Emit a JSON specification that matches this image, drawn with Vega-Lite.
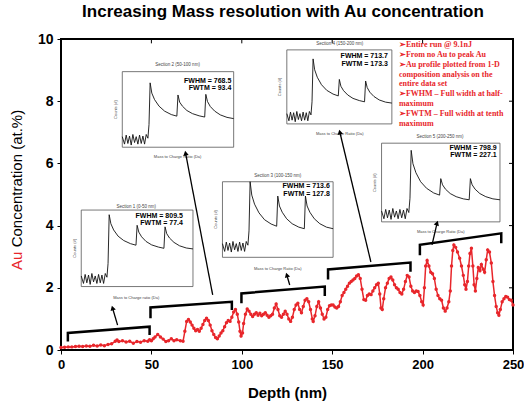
{
"$schema":"https://vega.github.io/schema/vega-lite/v6.json",
"width":452,"height":311,
"autosize":{"type":"none"},
"padding":{"left":61,"top":39,"right":11,"bottom":54},
"background":"white",
"config":{"view":{"stroke":"black","strokeWidth":2},"font":"Liberation Sans"},
"title":{"text":"Increasing Mass resolution with Au concentration","fontSize":17,"font":"Liberation Sans","fontWeight":"bold","color":"black","anchor":"middle","frame":"group","offset":11,"dx":-4},
"datasets":{
"series":[
{"x":0,"y":0.08},{"x":2,"y":0.09},{"x":4,"y":0.1},{"x":6,"y":0.1},{"x":8,"y":0.11},{"x":10,"y":0.12},{"x":12,"y":0.11},{"x":14,"y":0.13},{"x":16,"y":0.12},{"x":18,"y":0.15},{"x":20,"y":0.13},{"x":22,"y":0.16},{"x":24,"y":0.14},{"x":26,"y":0.18},{"x":28,"y":0.2},{"x":30,"y":0.28},{"x":31,"y":0.32},{"x":32,"y":0.27},{"x":34,"y":0.3},{"x":36,"y":0.26},{"x":38,"y":0.28},{"x":40,"y":0.22},{"x":42,"y":0.27},{"x":44,"y":0.25},{"x":46,"y":0.3},{"x":48,"y":0.28},{"x":49,"y":0.33},{"x":50,"y":0.3},{"x":51,"y":0.36},{"x":52,"y":0.42},{"x":53.5,"y":0.5},{"x":55,"y":0.42},{"x":56.5,"y":0.35},{"x":58,"y":0.27},{"x":59.5,"y":0.3},{"x":61,"y":0.36},{"x":62.5,"y":0.3},{"x":64,"y":0.33},{"x":66,"y":0.3},{"x":67.5,"y":0.28},{"x":68.5,"y":0.6},{"x":69.5,"y":0.92},{"x":70.5,"y":0.98},{"x":71.5,"y":0.9},{"x":72.5,"y":0.8},{"x":73.5,"y":0.7},{"x":74.5,"y":0.62},{"x":75.5,"y":0.66},{"x":76.5,"y":0.6},{"x":77.5,"y":0.7},{"x":78.5,"y":0.82},{"x":79.5,"y":0.95},{"x":80.5,"y":1.02},{"x":81.5,"y":0.95},{"x":82.5,"y":0.8},{"x":83.5,"y":0.62},{"x":84.5,"y":0.5},{"x":85.5,"y":0.4},{"x":86.5,"y":0.36},{"x":87.5,"y":0.45},{"x":88.5,"y":0.55},{"x":89.5,"y":0.62},{"x":90.5,"y":0.75},{"x":91.5,"y":0.88},{"x":92.5,"y":0.95},{"x":93.5,"y":0.92},{"x":94.5,"y":1.05},{"x":95.5,"y":1.22},{"x":96.5,"y":1.3},{"x":97.5,"y":1.15},{"x":98.3,"y":0.9},{"x":99,"y":0.6},{"x":99.6,"y":0.45},{"x":100.4,"y":0.55},{"x":101,"y":0.85},{"x":102,"y":1.15},{"x":103,"y":1.32},{"x":104,"y":1.25},{"x":105,"y":1.15},{"x":106,"y":1.08},{"x":107,"y":1.15},{"x":108,"y":1.2},{"x":109,"y":1.12},{"x":110,"y":1.18},{"x":111,"y":1.1},{"x":112,"y":1.15},{"x":113,"y":1.2},{"x":114,"y":1.12},{"x":115,"y":1.05},{"x":116,"y":1.1},{"x":117,"y":1.15},{"x":118,"y":1.35},{"x":119,"y":1.48},{"x":120,"y":1.3},{"x":121,"y":1.1},{"x":122,"y":1.05},{"x":123,"y":1.15},{"x":124,"y":1.25},{"x":125,"y":1.15},{"x":126,"y":1.0},{"x":127,"y":0.92},{"x":128,"y":1.05},{"x":129,"y":1.3},{"x":130,"y":1.45},{"x":131,"y":1.5},{"x":132,"y":1.3},{"x":133,"y":1.2},{"x":134,"y":1.4},{"x":135,"y":1.6},{"x":136,"y":1.65},{"x":137,"y":1.55},{"x":138,"y":1.3},{"x":139,"y":1.0},{"x":139.5,"y":0.92},{"x":140.5,"y":1.1},{"x":141.5,"y":1.4},{"x":142.5,"y":1.55},{"x":143.5,"y":1.35},{"x":144.5,"y":1.15},{"x":145.5,"y":1.0},{"x":146.5,"y":1.05},{"x":147.5,"y":1.3},{"x":148.5,"y":1.42},{"x":149.5,"y":1.45},{"x":150.5,"y":1.45},{"x":151.5,"y":1.38},{"x":152.5,"y":1.35},{"x":153.5,"y":1.4},{"x":154.5,"y":1.55},{"x":155.5,"y":1.75},{"x":156.5,"y":1.85},{"x":157.5,"y":1.95},{"x":158.5,"y":2.05},{"x":159.5,"y":2.15},{"x":160.5,"y":2.2},{"x":161.5,"y":2.25},{"x":162.5,"y":2.3},{"x":163.5,"y":2.38},{"x":164.5,"y":2.42},{"x":165.5,"y":2.3},{"x":166.5,"y":1.95},{"x":167.5,"y":1.62},{"x":168.5,"y":1.6},{"x":169.5,"y":1.75},{"x":170.5,"y":1.8},{"x":171.5,"y":1.78},{"x":172.5,"y":1.9},{"x":173.5,"y":2.0},{"x":174.5,"y":2.1},{"x":175.5,"y":2.15},{"x":176.3,"y":1.8},{"x":177,"y":1.35},{"x":177.7,"y":1.3},{"x":178.5,"y":1.65},{"x":179.5,"y":2.0},{"x":180.5,"y":2.15},{"x":181.5,"y":2.3},{"x":182.5,"y":2.35},{"x":183.5,"y":2.25},{"x":184.5,"y":2.1},{"x":185.5,"y":2.0},{"x":186.5,"y":1.95},{"x":187.5,"y":1.85},{"x":188.5,"y":1.8},{"x":189.5,"y":1.95},{"x":190.5,"y":2.2},{"x":191.5,"y":2.4},{"x":192.5,"y":2.35},{"x":193.5,"y":2.05},{"x":194.5,"y":1.9},{"x":195.5,"y":1.85},{"x":196.5,"y":1.9},{"x":197.5,"y":1.88},{"x":198.5,"y":1.75},{"x":199.5,"y":1.55},{"x":200.3,"y":1.45},{"x":201,"y":2.0},{"x":201.7,"y":2.7},{"x":202.5,"y":2.88},{"x":203.5,"y":2.7},{"x":204.5,"y":2.5},{"x":205.5,"y":2.45},{"x":206.5,"y":2.3},{"x":207.5,"y":1.95},{"x":208.5,"y":1.75},{"x":209.5,"y":1.65},{"x":210.5,"y":1.6},{"x":211.5,"y":1.35},{"x":212.5,"y":1.25},{"x":213.5,"y":1.35},{"x":214.5,"y":1.55},{"x":215.3,"y":1.9},{"x":216,"y":2.7},{"x":216.7,"y":3.2},{"x":217.3,"y":3.38},{"x":218.3,"y":3.3},{"x":219.3,"y":3.15},{"x":220.5,"y":2.95},{"x":221.5,"y":2.7},{"x":222.5,"y":2.4},{"x":223.3,"y":2.1},{"x":224,"y":1.95},{"x":224.8,"y":2.2},{"x":225.5,"y":2.7},{"x":226.2,"y":3.1},{"x":227,"y":3.27},{"x":227.8,"y":2.7},{"x":228.5,"y":2.1},{"x":229.2,"y":1.9},{"x":230,"y":2.3},{"x":230.8,"y":2.65},{"x":231.7,"y":2.55},{"x":232.5,"y":2.75},{"x":233.5,"y":2.6},{"x":234.3,"y":2.5},{"x":235.2,"y":2.9},{"x":236,"y":3.22},{"x":237,"y":3.15},{"x":238,"y":2.8},{"x":238.9,"y":2.2},{"x":239.8,"y":1.75},{"x":240.7,"y":1.4},{"x":241.5,"y":1.2},{"x":242.2,"y":1.12},{"x":243,"y":1.3},{"x":244,"y":1.55},{"x":245,"y":1.65},{"x":246,"y":1.72},{"x":247,"y":1.7},{"x":248,"y":1.62},{"x":249,"y":1.6},{"x":250,"y":1.45}
],
"insets":[
{"x":11.2,"x2":73.0,"y":2.04,"y2":4.50},{"x":33.9,"x2":95.5,"y":6.52,"y2":8.95},{"x":89.3,"x2":150.5,"y":2.98,"y2":5.41},{"x":124.9,"x2":183.0,"y":7.27,"y2":9.65},{"x":177.3,"x2":242.8,"y":4.12,"y2":6.65}
],
"spectra":[
{"id":1,"x":11.2,"y":2.38},{"id":1,"x":12.44,"y":2.14},{"id":1,"x":13.36,"y":2.43},{"id":1,"x":14.29,"y":2.16},{"id":1,"x":15.22,"y":2.41},{"id":1,"x":16.14,"y":2.11},{"id":1,"x":17.07,"y":2.46},{"id":1,"x":18.0,"y":2.19},{"id":1,"x":18.93,"y":2.38},{"id":1,"x":19.85,"y":2.14},{"id":1,"x":20.78,"y":2.43},{"id":1,"x":21.71,"y":2.16},{"id":1,"x":22.63,"y":2.41},{"id":1,"x":23.56,"y":2.14},{"id":1,"x":24.49,"y":2.46},{"id":1,"x":25.41,"y":2.34},{"id":1,"x":26.03,"y":2.78},{"id":1,"x":26.65,"y":4.35},{"id":1,"x":27.58,"y":4.06},{"id":1,"x":29.12,"y":3.86},{"id":1,"x":31.59,"y":3.66},{"id":1,"x":34.68,"y":3.52},{"id":1,"x":38.39,"y":3.42},{"id":1,"x":41.48,"y":3.37},{"id":1,"x":42.1,"y":4.01},{"id":1,"x":43.03,"y":3.79},{"id":1,"x":44.57,"y":3.64},{"id":1,"x":47.04,"y":3.49},{"id":1,"x":50.13,"y":3.38},{"id":1,"x":53.84,"y":3.31},{"id":1,"x":56.93,"y":3.27},{"id":1,"x":57.55,"y":3.96},{"id":1,"x":58.48,"y":3.74},{"id":1,"x":60.02,"y":3.60},{"id":1,"x":62.49,"y":3.46},{"id":1,"x":65.58,"y":3.35},{"id":1,"x":69.29,"y":3.28},{"id":1,"x":73.0,"y":3.25},
{"id":2,"x":33.9,"y":6.86},{"id":2,"x":35.13,"y":6.62},{"id":2,"x":36.06,"y":6.91},{"id":2,"x":36.98,"y":6.64},{"id":2,"x":37.9,"y":6.88},{"id":2,"x":38.83,"y":6.59},{"id":2,"x":39.75,"y":6.93},{"id":2,"x":40.68,"y":6.67},{"id":2,"x":41.6,"y":6.86},{"id":2,"x":42.52,"y":6.62},{"id":2,"x":43.45,"y":6.91},{"id":2,"x":44.37,"y":6.64},{"id":2,"x":45.3,"y":6.88},{"id":2,"x":46.22,"y":6.62},{"id":2,"x":47.14,"y":6.93},{"id":2,"x":48.07,"y":6.81},{"id":2,"x":48.68,"y":7.25},{"id":2,"x":49.3,"y":8.59},{"id":2,"x":50.22,"y":8.26},{"id":2,"x":51.76,"y":8.05},{"id":2,"x":54.23,"y":7.84},{"id":2,"x":57.31,"y":7.68},{"id":2,"x":61.0,"y":7.57},{"id":2,"x":64.08,"y":7.52},{"id":2,"x":64.7,"y":8.20},{"id":2,"x":65.62,"y":7.97},{"id":2,"x":67.16,"y":7.84},{"id":2,"x":69.63,"y":7.70},{"id":2,"x":72.71,"y":7.60},{"id":2,"x":76.4,"y":7.53},{"id":2,"x":79.48,"y":7.49},{"id":2,"x":80.1,"y":8.22},{"id":2,"x":81.02,"y":7.99},{"id":2,"x":82.56,"y":7.83},{"id":2,"x":85.03,"y":7.68},{"id":2,"x":88.11,"y":7.56},{"id":2,"x":91.8,"y":7.48},{"id":2,"x":95.5,"y":7.44},
{"id":3,"x":89.3,"y":3.42},{"id":3,"x":90.52,"y":3.17},{"id":3,"x":91.44,"y":3.47},{"id":3,"x":92.36,"y":3.20},{"id":3,"x":93.28,"y":3.44},{"id":3,"x":94.2,"y":3.15},{"id":3,"x":95.11,"y":3.49},{"id":3,"x":96.03,"y":3.22},{"id":3,"x":96.95,"y":3.42},{"id":3,"x":97.87,"y":3.17},{"id":3,"x":98.79,"y":3.47},{"id":3,"x":99.7,"y":3.20},{"id":3,"x":100.62,"y":3.44},{"id":3,"x":101.54,"y":3.17},{"id":3,"x":102.46,"y":3.49},{"id":3,"x":103.38,"y":3.37},{"id":3,"x":103.99,"y":3.83},{"id":3,"x":104.6,"y":5.41},{"id":3,"x":105.52,"y":4.98},{"id":3,"x":107.05,"y":4.69},{"id":3,"x":109.5,"y":4.41},{"id":3,"x":112.56,"y":4.19},{"id":3,"x":116.23,"y":4.05},{"id":3,"x":119.29,"y":3.98},{"id":3,"x":119.9,"y":4.95},{"id":3,"x":120.82,"y":4.63},{"id":3,"x":122.35,"y":4.43},{"id":3,"x":124.8,"y":4.22},{"id":3,"x":127.86,"y":4.06},{"id":3,"x":131.53,"y":3.95},{"id":3,"x":134.59,"y":3.90},{"id":3,"x":135.2,"y":4.95},{"id":3,"x":136.12,"y":4.63},{"id":3,"x":137.65,"y":4.43},{"id":3,"x":140.1,"y":4.22},{"id":3,"x":143.16,"y":4.06},{"id":3,"x":146.83,"y":3.95},{"id":3,"x":150.5,"y":3.90},
{"id":4,"x":124.9,"y":7.60},{"id":4,"x":126.06,"y":7.37},{"id":4,"x":126.93,"y":7.65},{"id":4,"x":127.81,"y":7.39},{"id":4,"x":128.68,"y":7.63},{"id":4,"x":129.55,"y":7.34},{"id":4,"x":130.42,"y":7.67},{"id":4,"x":131.29,"y":7.41},{"id":4,"x":132.16,"y":7.60},{"id":4,"x":133.03,"y":7.37},{"id":4,"x":133.91,"y":7.65},{"id":4,"x":134.78,"y":7.39},{"id":4,"x":135.65,"y":7.63},{"id":4,"x":136.52,"y":7.37},{"id":4,"x":137.39,"y":7.67},{"id":4,"x":138.26,"y":7.56},{"id":4,"x":138.84,"y":7.98},{"id":4,"x":139.43,"y":9.36},{"id":4,"x":140.3,"y":9.01},{"id":4,"x":141.75,"y":8.77},{"id":4,"x":144.07,"y":8.53},{"id":4,"x":146.98,"y":8.35},{"id":4,"x":150.46,"y":8.23},{"id":4,"x":153.37,"y":8.17},{"id":4,"x":153.95,"y":8.70},{"id":4,"x":154.82,"y":8.48},{"id":4,"x":156.27,"y":8.34},{"id":4,"x":158.6,"y":8.20},{"id":4,"x":161.5,"y":8.09},{"id":4,"x":164.99,"y":8.02},{"id":4,"x":167.89,"y":7.98},{"id":4,"x":168.48,"y":8.65},{"id":4,"x":169.35,"y":8.44},{"id":4,"x":170.8,"y":8.29},{"id":4,"x":173.12,"y":8.15},{"id":4,"x":176.03,"y":8.04},{"id":4,"x":179.51,"y":7.97},{"id":4,"x":183.0,"y":7.94},
{"id":5,"x":177.3,"y":4.47},{"id":5,"x":178.61,"y":4.22},{"id":5,"x":179.59,"y":4.52},{"id":5,"x":180.58,"y":4.25},{"id":5,"x":181.56,"y":4.50},{"id":5,"x":182.54,"y":4.20},{"id":5,"x":183.52,"y":4.55},{"id":5,"x":184.51,"y":4.27},{"id":5,"x":185.49,"y":4.47},{"id":5,"x":186.47,"y":4.22},{"id":5,"x":187.45,"y":4.52},{"id":5,"x":188.44,"y":4.25},{"id":5,"x":189.42,"y":4.50},{"id":5,"x":190.4,"y":4.22},{"id":5,"x":191.38,"y":4.55},{"id":5,"x":192.37,"y":4.42},{"id":5,"x":193.02,"y":4.88},{"id":5,"x":193.68,"y":6.42},{"id":5,"x":194.66,"y":5.99},{"id":5,"x":196.3,"y":5.70},{"id":5,"x":198.92,"y":5.41},{"id":5,"x":202.19,"y":5.20},{"id":5,"x":206.12,"y":5.05},{"id":5,"x":209.4,"y":4.98},{"id":5,"x":210.05,"y":5.51},{"id":5,"x":211.03,"y":5.31},{"id":5,"x":212.67,"y":5.17},{"id":5,"x":215.29,"y":5.03},{"id":5,"x":218.57,"y":4.93},{"id":5,"x":222.5,"y":4.86},{"id":5,"x":225.77,"y":4.83},{"id":5,"x":226.43,"y":5.51},{"id":5,"x":227.41,"y":5.31},{"id":5,"x":229.05,"y":5.17},{"id":5,"x":231.67,"y":5.03},{"id":5,"x":234.94,"y":4.93},{"id":5,"x":238.87,"y":4.86},{"id":5,"x":242.8,"y":4.83}
],
"brackets":[
{"id":1,"k":0,"x":3.8,"y":0.27},{"id":1,"k":1,"x":3.8,"y":0.55},{"id":1,"k":2,"x":49,"y":0.75},{"id":1,"k":3,"x":49,"y":0.48},
{"id":2,"k":0,"x":49.5,"y":1.02},{"id":2,"k":1,"x":49.5,"y":1.37},{"id":2,"k":2,"x":94.5,"y":1.55},{"id":2,"k":3,"x":94.5,"y":1.29},
{"id":3,"k":0,"x":99.8,"y":1.5},{"id":3,"k":1,"x":99.8,"y":1.82},{"id":3,"k":2,"x":145.9,"y":2.04},{"id":3,"k":3,"x":145.9,"y":1.74},
{"id":4,"k":0,"x":147.7,"y":2.27},{"id":4,"k":1,"x":147.7,"y":2.59},{"id":4,"k":2,"x":193.3,"y":2.81},{"id":4,"k":3,"x":193.3,"y":2.52},
{"id":5,"k":0,"x":198.5,"y":3.05},{"id":5,"k":1,"x":198.5,"y":3.38},{"id":5,"k":2,"x":243.5,"y":3.75},{"id":5,"k":3,"x":243.5,"y":3.43}
],
"arrows":[
{"id":1,"k":0,"x":31.3,"y":0.8},{"id":1,"k":1,"x":28.5,"y":1.35},
{"id":2,"k":0,"x":83.9,"y":1.77},{"id":2,"k":1,"x":68.9,"y":6.33},
{"id":3,"k":0,"x":126.5,"y":2.09},{"id":3,"k":1,"x":124.9,"y":2.41},
{"id":4,"k":0,"x":171.4,"y":2.83},{"id":4,"k":1,"x":154.2,"y":7.01},
{"id":5,"k":0,"x":205.2,"y":3.38},{"id":5,"k":1,"x":208,"y":4.08}
],
"heads":[
{"x":28.5,"y":1.35,"a":344},{"x":68.9,"y":6.33,"a":349},{"x":124.9,"y":2.41,"a":343},{"x":154.2,"y":7.01,"a":347},{"x":208,"y":4.08,"a":19}
],
"fw":[
{"x":67.4,"y":4.32,"t":"FWHM = 809.5"},{"x":67.4,"y":4.08,"t":"FWTM = 77.4"},
{"x":94.2,"y":8.66,"t":"FWHM = 768.5"},{"x":94.2,"y":8.42,"t":"FWTM = 93.4"},
{"x":148.7,"y":5.27,"t":"FWHM = 713.6"},{"x":148.7,"y":5.03,"t":"FWTM = 127.8"},
{"x":180.8,"y":9.45,"t":"FWHM = 713.7"},{"x":180.8,"y":9.21,"t":"FWTM = 173.3"},
{"x":241,"y":6.5,"t":"FWHM = 798.9"},{"x":241,"y":6.26,"t":"FWTM = 227.1"}
],
"sections":[
{"x":41.6,"y":4.61,"t":"Section 1 (0-50 nm)"},{"x":64.5,"y":9.16,"t":"Section 2 (50-100 nm)"},{"x":119.9,"y":5.59,"t":"Section 3 (100-150 nm)"},{"x":154.2,"y":9.84,"t":"Section 4 (150-200 nm)"},{"x":209.6,"y":6.84,"t":"Section 5 (200-250 nm)"}
],
"masslab":[
{"x":41.6,"y":1.68,"t":"Mass to Charge ratio (Da)"},{"x":64.5,"y":6.2,"t":"Mass to Charge Ratio (Da)"},{"x":119.9,"y":2.59,"t":"Mass to Charge Ratio (Da)"},{"x":154.2,"y":6.95,"t":"Mass to Charge Ratio (Da)"},{"x":210,"y":3.8,"t":"Mass to Charge Ratio (Da)"}
],
"countlab":[
{"x":7.6,"y":3.27,"t":"Counts (#)"},{"x":30.3,"y":7.73,"t":"Counts (#)"},{"x":85.7,"y":4.2,"t":"Counts (#)"},{"x":121.3,"y":8.46,"t":"Counts (#)"},{"x":173.7,"y":5.38,"t":"Counts (#)"}
],
"notes":[
{"x":186.9,"y":9.93,"t":"➢Entire run @ 9.1nJ\n➢From no Au to peak Au\n➢Au profile plotted from 1-D\ncomposition analysis on the\nentire data set\n➢FWHM – Full width at half-\nmaximum\n➢FWTM – Full width at tenth\nmaximum"}
],
"ytitleAu":[{"x":-24.5,"y":2.57,"t":"Au"}],
"ytitleRest":[{"x":-24.5,"y":3.3,"t":"Concentration (at.%)"}],
"topticks":[{"x":50,"y":10,"y2":9.86},{"x":100,"y":10,"y2":9.86},{"x":150,"y":10,"y2":9.86},{"x":200,"y":10,"y2":9.86}],
"rightticks":[{"x":250,"x2":247.8,"y":2},{"x":250,"x2":247.8,"y":4},{"x":250,"x2":247.8,"y":6},{"x":250,"x2":247.8,"y":8}]
},
"encoding":{
"x":{"field":"x","type":"quantitative","scale":{"domain":[0,250],"nice":false,"zero":false},
 "axis":{"values":[0,50,100,150,200,250],"title":"Depth (nm)","titleFontSize":15,"titleFontWeight":"bold","titleColor":"black","titlePadding":14,"labelFontSize":13,"labelFontWeight":"bold","labelColor":"black","labelFlush":false,"labelPadding":4,"tickSize":4,"tickColor":"black","domain":false,"grid":false}},
"y":{"field":"y","type":"quantitative","scale":{"domain":[0,10],"nice":false,"zero":false},
 "axis":{"values":[0,2,4,6,8,10],"title":null,"labelFontSize":14,"labelFontWeight":"bold","labelColor":"black","labelFlush":false,"labelPadding":4,"tickSize":4,"tickColor":"black","domain":false,"grid":false}}
},
"layer":[
{"data":{"name":"insets"},"mark":{"type":"rect","fill":"white","stroke":"#555","strokeWidth":0.8},"encoding":{"x2":{"field":"x2"},"y2":{"field":"y2"}}},
{"data":{"name":"spectra"},"mark":{"type":"line","color":"#111","strokeWidth":0.9},"encoding":{"detail":{"field":"id"}}},
{"data":{"name":"fw"},"mark":{"type":"text","align":"right","baseline":"middle","fontSize":7,"fontWeight":"bold","color":"black"},"encoding":{"text":{"field":"t"}}},
{"data":{"name":"sections"},"mark":{"type":"text","align":"center","baseline":"middle","fontSize":4.5,"color":"#444"},"encoding":{"text":{"field":"t"}}},
{"data":{"name":"masslab"},"mark":{"type":"text","align":"center","baseline":"middle","fontSize":4,"color":"#444"},"encoding":{"text":{"field":"t"}}},
{"data":{"name":"countlab"},"mark":{"type":"text","align":"center","baseline":"middle","fontSize":4,"angle":270,"color":"#444"},"encoding":{"text":{"field":"t"}}},
{"data":{"name":"brackets"},"mark":{"type":"line","color":"black","strokeWidth":2.5},"encoding":{"detail":{"field":"id"},"order":{"field":"k"}}},
{"data":{"name":"arrows"},"mark":{"type":"line","color":"black","strokeWidth":1.3},"encoding":{"detail":{"field":"id"},"order":{"field":"k"}}},
{"data":{"name":"heads"},"mark":{"type":"point","shape":"triangle-up","filled":true,"color":"black","size":30,"opacity":1},"encoding":{"angle":{"field":"a","type":"quantitative","scale":null}}},
{"data":{"name":"series"},"mark":{"type":"line","color":"#e8262b","strokeWidth":1.5,"point":{"filled":true,"size":12,"color":"#e8262b"}},"encoding":{}},
{"data":{"name":"notes"},"mark":{"type":"text","align":"left","baseline":"top","fontSize":8,"fontWeight":"bold","font":"Liberation Serif","color":"#e8262b","lineBreak":"\n","lineHeight":9.8},"encoding":{"text":{"field":"t"}}},
{"data":{"name":"ytitleAu"},"mark":{"type":"text","align":"left","baseline":"middle","angle":270,"fontSize":15,"color":"#e8262b"},"encoding":{"text":{"field":"t"}}},
{"data":{"name":"ytitleRest"},"mark":{"type":"text","align":"left","baseline":"middle","angle":270,"fontSize":15,"color":"black"},"encoding":{"text":{"field":"t"}}},
{"data":{"name":"topticks"},"mark":{"type":"rule","color":"black","strokeWidth":1},"encoding":{"y2":{"field":"y2"}}},
{"data":{"name":"rightticks"},"mark":{"type":"rule","color":"black","strokeWidth":1},"encoding":{"x2":{"field":"x2"}}}
]
}
